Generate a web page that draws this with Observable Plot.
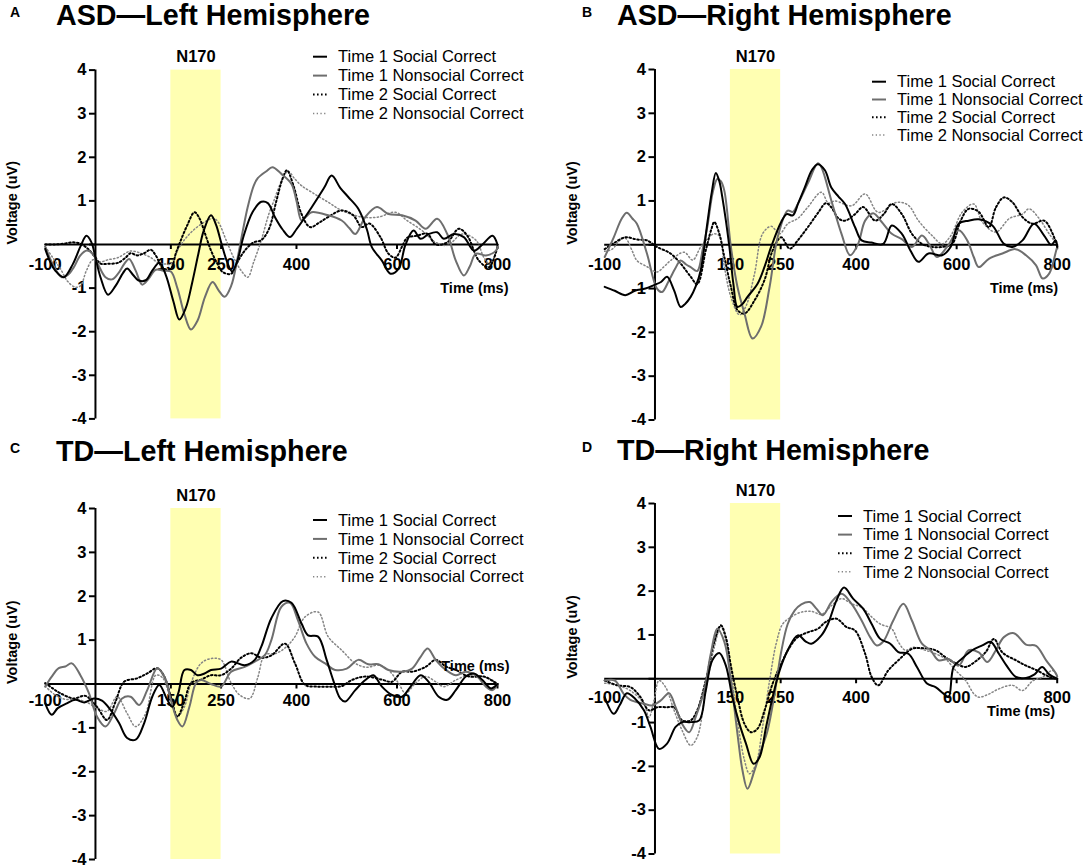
<!DOCTYPE html>
<html><head><meta charset="utf-8">
<script src="https://cdn.jsdelivr.net/npm/d3@7"></script>
<script src="https://cdn.jsdelivr.net/npm/@observablehq/plot@0.6"></script>
<style>
body{margin:0;background:#fff;}
#page{position:relative;width:1084px;height:867px;overflow:hidden;font-family:"Liberation Sans",Arial,sans-serif;}
.panel{position:absolute;}
#overlay{position:absolute;left:0;top:0;pointer-events:none;}
</style></head>
<body><div id="page"></div>
<script>
// ---------- categories / ticks ----------
const seriesNames = ["Time 1 Social Correct","Time 1 Nonsocial Correct","Time 2 Social Correct","Time 2 Nonsocial Correct"];
const panelLetters = ["A","B","C","D"];
const panelTitles = ["ASD\u2014Left Hemisphere","ASD\u2014Right Hemisphere","TD\u2014Left Hemisphere","TD\u2014Right Hemisphere"];
const xDomain = [-100, 800];
const yDomain = [-4, 4];
const xTickLabels = [-100, 150, 250, 400, 600, 800];
const xTickMarks = [150, 250, 400, 600, 800];
const yTickLabels = [-4, -3, -2, -1, 1, 2, 3, 4];
const yTickMarks = [-4, -3, -2, -1, 0, 1, 2, 3, 4];
const n170Window = [150, 250];
const n170Label = "N170";
const xTitle = "Time (ms)";
const yTitle = "Voltage (uV)";

// ---------- series values [time ms, voltage uV] ----------
// Panel A: ASD Left
const asdLeftT1Social = [[-100,-0.1],[-90,-0.4],[-80,-0.6],[-63,-0.75],[-45,-0.45],[-30,-0.05],[-18,0.2],[-8,0.05],[0,-0.3],[10,-0.75],[25,-1.15],[40,-0.95],[55,-0.65],[63,-0.55],[75,-0.7],[85,-0.82],[100,-0.82],[113,-0.6],[127,-0.42],[140,-0.7],[155,-1.3],[167,-1.72],[180,-1.45],[192,-0.9],[205,-0.2],[215,0.3],[230,0.67],[240,0.45],[250,0.05],[262,-0.4],[272,-0.62],[283,-0.35],[295,0.2],[313,0.75],[330,0.98],[343,0.95],[357,0.63],[372,0.35],[387,0.17],[400,0.35],[430,0.85],[455,1.3],[470,1.58],[487,1.3],[503,1.09],[523,0.82],[540,0.35],[550,-0.06],[570,-0.37],[587,-0.67],[603,-0.56],[617,0.0],[633,0.32],[647,0.13],[663,0.24],[680,0.28],[693,0.13],[713,0.24],[733,0.17],[753,-0.14],[770,0.0],[790,0.2],[800,0.0]];
const asdLeftT1Nonsocial = [[-100,-0.05],[-85,-0.45],[-67,-0.75],[-55,-0.7],[-43,-0.52],[-30,-0.25],[-17,-0.14],[-5,-0.22],[5,-0.45],[20,-0.75],[33,-0.8],[45,-0.67],[57,-0.45],[67,-0.33],[80,-0.6],[93,-0.92],[105,-0.8],[120,-0.58],[135,-0.6],[150,-0.62],[163,-1.0],[177,-1.6],[190,-1.95],[203,-1.75],[218,-1.2],[233,-0.86],[245,-1.05],[257,-1.2],[270,-0.95],[283,-0.3],[293,0.3],[303,0.86],[315,1.35],[323,1.52],[340,1.68],[352,1.77],[370,1.62],[390,1.39],[400,1.0],[410,0.55],[420,0.65],[430,0.74],[463,0.67],[490,0.55],[505,0.38],[517,0.24],[537,0.63],[560,0.86],[583,0.7],[610,0.67],[637,0.55],[657,0.36],[680,0.59],[700,0.24],[717,-0.37],[733,-0.71],[745,-0.5],[757,-0.21],[777,-0.25],[797,-0.14],[800,-0.05]];
const asdLeftT2Social = [[-100,0.0],[-80,0.0],[-63,0.02],[-45,0.05],[-30,0.02],[-15,-0.1],[0,-0.3],[10,-0.44],[25,-0.44],[45,-0.42],[60,-0.3],[70,-0.2],[83,-0.25],[97,-0.2],[110,-0.12],[120,-0.25],[135,-0.55],[150,-0.55],[160,-0.2],[170,0.1],[183,0.45],[197,0.74],[207,0.6],[218,0.25],[230,-0.14],[243,-0.45],[253,-0.63],[270,-0.67],[285,-0.35],[300,-0.1],[315,0.05],[330,0.1],[345,0.35],[360,1.0],[372,1.5],[381,1.7],[394,1.35],[410,0.7],[427,0.4],[445,0.5],[463,0.63],[490,0.78],[513,0.67],[530,0.4],[545,0.48],[567,0.17],[583,-0.21],[597,-0.3],[610,-0.05],[620,0.15],[640,0.2],[660,0.25],[677,0.0],[700,0.05],[723,0.36],[740,0.2],[763,-0.37],[783,-0.52],[800,-0.05]];
const asdLeftT2Nonsocial = [[-100,-0.05],[-85,-0.3],[-70,-0.55],[-55,-0.85],[-40,-0.98],[-30,-0.95],[-18,-0.6],[-5,-0.35],[10,-0.4],[25,-0.35],[45,-0.3],[70,-0.15],[90,-0.2],[110,-0.3],[125,-0.42],[140,-0.45],[150,-0.45],[165,-0.1],[180,0.15],[197,0.35],[215,0.5],[235,0.6],[245,0.5],[260,0.1],[275,-0.3],[290,-0.6],[303,-0.75],[315,-0.4],[330,0.1],[345,0.7],[355,1.0],[370,1.45],[383,1.68],[397,1.5],[410,1.35],[430,1.2],[463,0.97],[490,0.78],[530,0.63],[563,0.63],[597,0.74],[620,0.55],[650,0.32],[677,0.05],[700,-0.02],[730,0.24],[757,0.1],[773,-0.3],[785,-0.45],[800,-0.05]];

// Panel B: ASD Right
const asdRightT1Social = [[-100,-0.96],[-80,-1.05],[-59,-1.15],[-40,-1.05],[-19,-1.0],[-2,-0.92],[12,-0.85],[24,-0.73],[38,-1.04],[51,-1.42],[60,-1.35],[71,-1.19],[81,-0.95],[91,-0.58],[104,0.48],[113,1.2],[121,1.64],[128,1.45],[134,1.08],[148,-0.05],[156,-0.9],[164,-1.42],[174,-1.35],[184,-1.19],[204,-0.89],[218,-0.5],[231,-0.05],[251,0.52],[262,0.7],[274,0.67],[285,0.95],[298,1.31],[312,1.7],[324,1.84],[338,1.7],[351,1.3],[365,1.1],[378,0.93],[398,0.4],[411,0.1],[430,0.05],[454,0.02],[471,0.44],[491,0.25],[508,-0.13],[524,-0.39],[544,-0.2],[571,-0.24],[588,-0.05],[604,0.48],[624,0.55],[644,0.58],[671,0.44],[694,0.02],[711,-0.05],[731,0.1],[754,0.48],[774,0.21],[788,0.0],[797,0.1],[800,-0.05]];
const asdRightT1Nonsocial = [[-100,-0.28],[-82,0.17],[-66,0.6],[-56,0.73],[-45,0.6],[-36,0.48],[-16,-0.2],[4,-1.0],[14,-1.08],[28,-0.81],[40,-0.55],[51,-0.36],[62,-0.45],[71,-0.51],[84,-0.6],[95,-0.1],[104,0.4],[115,1.2],[124,1.5],[131,1.45],[138,1.23],[151,-0.05],[164,-0.96],[178,-1.57],[194,-2.14],[211,-1.87],[228,-0.96],[244,0.17],[264,0.78],[274,0.75],[285,0.95],[304,1.4],[324,1.86],[331,1.77],[351,1.0],[371,0.25],[388,-0.24],[404,0.02],[418,0.55],[434,0.72],[451,0.52],[471,0.25],[491,0.13],[511,-0.05],[531,0.21],[545,0.02],[561,-0.28],[581,-0.05],[604,0.33],[621,0.1],[634,-0.28],[644,-0.51],[664,-0.32],[691,-0.2],[717,-0.1],[738,-0.24],[758,-0.47],[771,-0.77],[784,-0.66],[798,-0.13],[800,-0.05]];
const asdRightT2Social = [[-100,-0.1],[-80,0.05],[-59,0.17],[-36,0.12],[-16,0.1],[4,-0.05],[31,-0.2],[51,-0.43],[71,-0.73],[84,-0.9],[101,-0.13],[112,0.35],[118,0.52],[128,0.25],[138,-0.28],[151,-0.96],[164,-1.49],[178,-1.57],[198,-1.27],[218,-0.8],[234,-0.13],[251,0.17],[268,-0.09],[284,0.1],[304,0.4],[325,0.74],[340,0.95],[351,0.85],[365,0.6],[378,0.55],[398,0.7],[414,0.86],[438,0.55],[455,0.7],[471,0.93],[491,0.7],[511,0.25],[531,0.02],[551,-0.05],[571,-0.05],[591,0.02],[608,0.55],[624,0.82],[644,0.75],[664,0.4],[678,0.85],[694,1.08],[711,0.97],[731,0.63],[751,0.48],[774,0.55],[791,0.25],[800,-0.05]];
const asdRightT2Nonsocial = [[-100,-0.15],[-85,-0.1],[-70,0.1],[-59,0.15],[-45,-0.15],[-36,-0.36],[-16,-0.5],[4,-0.62],[18,-0.5],[31,-0.36],[58,-0.17],[75,-0.35],[91,-0.05],[110,0.2],[118,0.25],[128,0.2],[138,-0.5],[151,-1.19],[168,-1.6],[181,-1.4],[198,-0.66],[214,0.25],[231,0.42],[248,0.25],[264,0.48],[284,0.6],[304,0.86],[331,1.2],[345,0.95],[358,1.0],[391,0.89],[418,1.16],[444,0.74],[481,0.97],[504,0.9],[524,0.55],[551,0.21],[571,0.02],[588,0.2],[611,0.74],[634,0.93],[651,0.52],[678,0.29],[705,0.6],[731,0.7],[744,0.82],[764,0.6],[784,0.25],[800,0.0]];

// Panel C: TD Left
const tdLeftT1Social = [[-100,-0.44],[-87,-0.7],[-75,-0.55],[-57,-0.44],[-40,-0.36],[-22,-0.42],[-3,-0.33],[13,-0.38],[30,-0.59],[47,-0.89],[63,-1.23],[80,-1.27],[97,-0.89],[113,-0.29],[127,-0.02],[143,-0.36],[153,-0.52],[165,-0.2],[177,0.32],[190,0.32],[203,0.2],[217,0.24],[230,0.32],[250,0.35],[270,0.51],[297,0.43],[317,0.55],[330,0.85],[350,1.5],[373,1.89],[390,1.85],[410,1.38],[423,1.11],[443,1.08],[460,0.55],[473,0.09],[487,-0.33],[497,-0.4],[517,-0.14],[537,0.09],[553,0.2],[570,-0.06],[590,-0.25],[610,-0.29],[627,-0.06],[647,0.2],[663,0.05],[683,-0.29],[700,-0.36],[717,-0.14],[737,0.17],[753,0.24],[770,0.09],[787,-0.1],[800,0.0]];
const tdLeftT1Nonsocial = [[-100,-0.06],[-87,0.17],[-73,0.36],[-60,0.4],[-47,0.47],[-30,0.2],[-13,-0.21],[3,-0.74],[20,-0.97],[37,-0.67],[53,-0.33],[70,-0.29],[87,-0.48],[103,-0.14],[123,0.36],[137,0.17],[150,-0.36],[163,-0.82],[173,-0.97],[187,-0.52],[200,0.02],[210,0.09],[230,0.0],[250,-0.06],[270,0.28],[297,0.39],[317,0.51],[337,0.66],[350,1.0],[370,1.76],[387,1.85],[403,1.45],[420,0.92],[437,0.62],[457,0.47],[477,0.32],[500,0.35],[523,0.55],[543,0.45],[563,0.45],[583,0.32],[610,0.28],[630,0.35],[647,0.62],[661,0.81],[677,0.55],[693,0.36],[717,0.2],[737,0.28],[757,0.2],[777,-0.06],[790,-0.14],[800,0.0]];
const tdLeftT2Social = [[-100,0.02],[-85,-0.1],[-70,-0.21],[-43,-0.33],[-20,-0.27],[3,-0.52],[23,-0.82],[40,-0.4],[57,0.05],[83,0.13],[103,0.24],[123,0.36],[137,0.17],[150,-0.29],[163,-0.74],[177,-0.4],[190,0.02],[210,0.1],[230,0.2],[250,0.2],[270,0.35],[290,0.6],[310,0.7],[330,0.6],[350,0.65],[377,0.92],[397,0.47],[417,-0.02],[440,-0.06],[463,-0.06],[490,-0.05],[510,0.09],[537,0.17],[570,0.1],[590,0.05],[610,0.28],[630,0.28],[657,0.39],[677,0.55],[697,0.4],[717,0.32],[743,0.17],[773,0.17],[793,0.05],[800,0.0]];
const tdLeftT2Nonsocial = [[-100,-0.05],[-80,-0.25],[-60,-0.35],[-40,-0.35],[-20,-0.4],[3,-0.55],[23,-0.62],[43,-0.29],[63,-0.67],[80,-0.97],[100,-0.67],[120,0.2],[133,0.15],[150,-0.36],[163,-0.74],[177,-0.52],[190,0.02],[210,0.47],[230,0.58],[250,0.55],[270,0.02],[287,-0.25],[307,-0.33],[323,0.15],[337,0.66],[360,0.7],[380,0.85],[397,1.08],[417,1.53],[443,1.64],[463,1.08],[490,0.77],[517,0.47],[540,0.38],[563,0.43],[583,0.32],[603,0.02],[617,-0.21],[637,0.02],[657,0.17],[677,0.05],[693,-0.06],[717,0.09],[743,0.2],[770,0.17],[790,0.09],[800,0.0]];

// Panel D: TD Right
const tdRightT1Social = [[-100,-0.42],[-82,-0.8],[-70,-0.6],[-56,-0.33],[-40,-0.45],[-22,-0.72],[-9,-1.1],[8,-1.6],[24,-1.48],[41,-1.1],[54,-0.99],[71,-0.99],[88,-0.95],[101,-0.27],[114,0.42],[128,0.59],[141,0.3],[154,-0.42],[168,-1.03],[181,-1.48],[196,-1.94],[208,-1.79],[221,-1.1],[234,-0.42],[248,0.19],[264,0.65],[284,0.99],[300,0.85],[311,0.8],[331,0.99],[344,1.25],[361,1.79],[376,2.08],[394,1.83],[414,1.6],[431,1.25],[448,0.91],[468,0.8],[484,0.61],[504,0.57],[521,0.27],[541,-0.11],[558,-0.19],[574,-0.34],[584,-0.42],[594,0.27],[611,0.46],[631,0.65],[651,0.76],[668,0.84],[684,0.57],[701,0.27],[718,0.04],[738,0.02],[755,0.1],[770,0.27],[784,0.1],[800,0.0]];
const tdRightT1Nonsocial = [[-100,-0.04],[-80,-0.04],[-62,-0.35],[-49,-0.48],[-22,-0.57],[-6,-0.61],[11,-0.5],[28,-0.33],[41,-0.65],[54,-1.03],[68,-1.22],[81,-0.87],[98,-0.27],[111,0.57],[124,1.14],[138,0.84],[151,-0.04],[164,-1.25],[174,-2.09],[184,-2.51],[198,-2.09],[211,-1.63],[224,-1.18],[238,-0.34],[251,0.61],[264,1.25],[278,1.56],[291,1.7],[308,1.75],[321,1.6],[334,1.45],[351,1.75],[371,1.94],[391,1.71],[411,1.33],[428,0.95],[441,0.76],[454,0.85],[474,1.33],[494,1.71],[511,1.33],[531,0.8],[548,0.65],[564,0.42],[584,0.45],[604,0.3],[624,0.65],[644,0.6],[661,0.38],[678,0.65],[694,0.95],[714,1.04],[738,0.78],[758,0.75],[778,0.42],[798,0.11],[800,0.05]];
const tdRightT2Social = [[-100,-0.04],[-75,-0.15],[-49,-0.19],[-30,-0.4],[-12,-0.72],[5,-0.65],[25,-0.65],[38,-0.65],[54,-0.95],[71,-0.95],[84,-0.72],[101,-0.04],[118,0.84],[131,1.22],[141,0.95],[151,0.3],[164,-0.42],[178,-1.03],[191,-1.22],[204,-1.14],[218,-0.72],[234,-0.11],[251,0.34],[268,0.72],[284,0.95],[304,1.06],[324,1.14],[340,1.3],[361,1.37],[381,1.18],[398,1.1],[418,0.57],[431,0.04],[444,-0.15],[464,0.19],[484,0.42],[511,0.68],[531,0.7],[558,0.65],[578,0.49],[598,0.35],[618,0.27],[638,0.4],[658,0.61],[674,0.91],[691,0.6],[718,0.42],[738,0.3],[758,0.2],[785,0.04],[800,0.0]];
const tdRightT2Nonsocial = [[-100,-0.1],[-75,-0.15],[-49,-0.27],[-22,-0.57],[-12,-0.88],[-2,-0.5],[8,-0.04],[21,-0.19],[38,-0.72],[54,-1.18],[71,-1.52],[84,-1.33],[101,-0.27],[118,0.72],[131,1.19],[141,0.87],[151,0.19],[164,-0.95],[178,-1.86],[188,-2.17],[201,-1.94],[214,-1.1],[228,-0.04],[241,0.8],[254,1.25],[271,1.41],[291,1.52],[311,1.54],[331,1.47],[351,1.67],[371,1.83],[391,1.71],[411,1.63],[431,1.41],[448,1.25],[471,1.14],[484,0.84],[498,0.65],[514,0.72],[538,0.65],[558,0.57],[578,0.45],[598,0.19],[618,-0.04],[634,-0.34],[644,-0.42],[664,-0.35],[684,-0.23],[711,-0.15],[731,-0.27],[751,-0.05],[771,0.04],[791,0.19],[800,0.05]];

const panelSeries = [
  [asdLeftT1Social, asdLeftT1Nonsocial, asdLeftT2Social, asdLeftT2Nonsocial],
  [asdRightT1Social, asdRightT1Nonsocial, asdRightT2Social, asdRightT2Nonsocial],
  [tdLeftT1Social, tdLeftT1Nonsocial, tdLeftT2Social, tdLeftT2Nonsocial],
  [tdRightT1Social, tdRightT1Nonsocial, tdRightT2Social, tdRightT2Nonsocial]
];

// ---------- styles & layout ----------
const FONT = "Liberation Sans, Arial, Helvetica, sans-serif";
const seriesStyles = [
  {stroke:"#000000", strokeWidth:2, dash:null},
  {stroke:"#6e6e6e", strokeWidth:2, dash:null},
  {stroke:"#000000", strokeWidth:2, dash:"1.6,2.4"},
  {stroke:"#858585", strokeWidth:1.5, dash:"1.3,2.4"}
];
const drawOrder = [3, 2, 1, 0];
const n170Fill = "#ffffb2";
const layouts = [
  {left:0,   top:0,   w:542, h:433, ml:44.7, mr:45,   mt:69.6, mb:14.6, labDy:20, timeY:-1.0, timeDx:11, vDx:-32.7,
   letter:[10,17], title:[56,25], legend:{x:338, y:56.7, step:18.9}},
  {left:542, top:0,   w:542, h:433, ml:62.2, mr:27.3, mt:69,   mb:13.5, labDy:20, timeY:-1.0, timeDx:1,  vDx:-32,
   letter:[582,17], title:[617,25], legend:{x:897, y:81.7, step:17.8}},
  {left:0,   top:433, w:542, h:434, ml:44.7, mr:45,   mt:75,   mb:8,    labDy:17, timeY:0.41, timeDx:12, vDx:-32.7,
   letter:[10,453], title:[56,461], legend:{x:338, y:520, step:18.9}},
  {left:542, top:433, w:542, h:434, ml:62.2, mr:27.3, mt:70,   mb:13.5, labDy:19, timeY:-0.75, timeDx:-2, vDx:-32,
   letter:[582,452], title:[617,460], legend:{x:863, y:516, step:18.6}}
];

const page = document.getElementById("page");

panelSeries.forEach((series, i) => {
  const L = layouts[i];
  const pxPerMs = (L.w - L.ml - L.mr) / (xDomain[1] - xDomain[0]);
  const pxPerUv = (L.h - L.mt - L.mb) / (yDomain[1] - yDomain[0]);
  const yTickLenMs = 6 / pxPerMs;
  const xTickLenUv = 5 / pxPerUv;
  const marks = [
    Plot.rect([n170Window], {x1: d => d[0], x2: d => d[1], y1: yDomain[0], y2: yDomain[1], fill: n170Fill}),
    Plot.text(xTickLabels, {x: d => d, y: 0, text: d => String(d), dy: L.labDy, fontSize: 16.5, fontWeight: "bold", fill: "#000"}),
    Plot.text(yTickLabels, {x: 0, y: d => d, text: d => String(d), textAnchor: "end", dx: -9, fontSize: 16.5, fontWeight: "bold", fill: "#000"}),
    Plot.ruleY(yTickMarks, {y: d => d, x1: -yTickLenMs, x2: 0, stroke: "#000", strokeWidth: 2}),
    Plot.ruleX(xTickMarks, {x: d => d, y1: 0, y2: -xTickLenUv, stroke: "#000", strokeWidth: 2}),
    Plot.ruleX([0], {y1: yDomain[0], y2: yDomain[1], stroke: "#000", strokeWidth: 2}),
    Plot.ruleY([0], {x1: xDomain[0], x2: xDomain[1], stroke: "#000", strokeWidth: 2})
  ];
  drawOrder.forEach(k => {
    const s = seriesStyles[k];
    marks.push(Plot.line(series[k], {
      x: d => d[0], y: d => d[1], curve: "catmull-rom",
      stroke: s.stroke, strokeWidth: s.strokeWidth, strokeDasharray: s.dash,
      strokeLinejoin: "round"
    }));
  });
  marks.push(
    Plot.text([n170Label], {x: (n170Window[0] + n170Window[1]) / 2, y: yDomain[1], text: d => d, dy: -13, fontSize: 16.5, fontWeight: "bold", fill: "#000"}),
    Plot.text([xTitle], {x: xDomain[1], y: L.timeY, text: d => d, textAnchor: "end", dx: L.timeDx, fontSize: 14.5, fontWeight: "bold", fill: "#000"}),
    Plot.text([yTitle], {frameAnchor: "left", text: d => d, rotate: -90, dx: L.vDx, fontSize: 14.5, fontWeight: "bold", fill: "#000"})
  );
  const chart = Plot.plot({
    width: L.w, height: L.h,
    marginLeft: L.ml, marginRight: L.mr, marginTop: L.mt, marginBottom: L.mb,
    x: {domain: xDomain, axis: null},
    y: {domain: yDomain, axis: null},
    style: {fontFamily: FONT, background: "transparent", overflow: "visible"},
    marks
  });
  const wrap = document.createElement("div");
  wrap.className = "panel";
  wrap.style.left = L.left + "px";
  wrap.style.top = L.top + "px";
  wrap.appendChild(chart);
  page.appendChild(wrap);
});

// ---------- titles & legends (overlay) ----------
const svg = d3.select(page).append("svg").attr("id", "overlay")
  .attr("width", 1084).attr("height", 867)
  .style("font-family", FONT);
layouts.forEach((L, i) => {
  svg.append("text").attr("x", L.letter[0]).attr("y", L.letter[1])
    .attr("font-size", 14).attr("font-weight", "bold").text(panelLetters[i]);
  svg.append("text").attr("x", L.title[0]).attr("y", L.title[1])
    .attr("font-size", 28.7).attr("font-weight", "bold").text(panelTitles[i]);
  seriesNames.forEach((name, k) => {
    const s = seriesStyles[k];
    const cy = L.legend.y + k * L.legend.step;
    svg.append("line").attr("x1", L.legend.x - 25).attr("x2", L.legend.x - 11)
      .attr("y1", cy).attr("y2", cy)
      .attr("stroke", s.stroke).attr("stroke-width", s.strokeWidth)
      .attr("stroke-dasharray", s.dash);
    svg.append("text").attr("x", L.legend.x).attr("y", cy).attr("dy", "0.35em")
      .attr("font-size", 16.5).text(name);
  });
});
</script>
</body></html>
